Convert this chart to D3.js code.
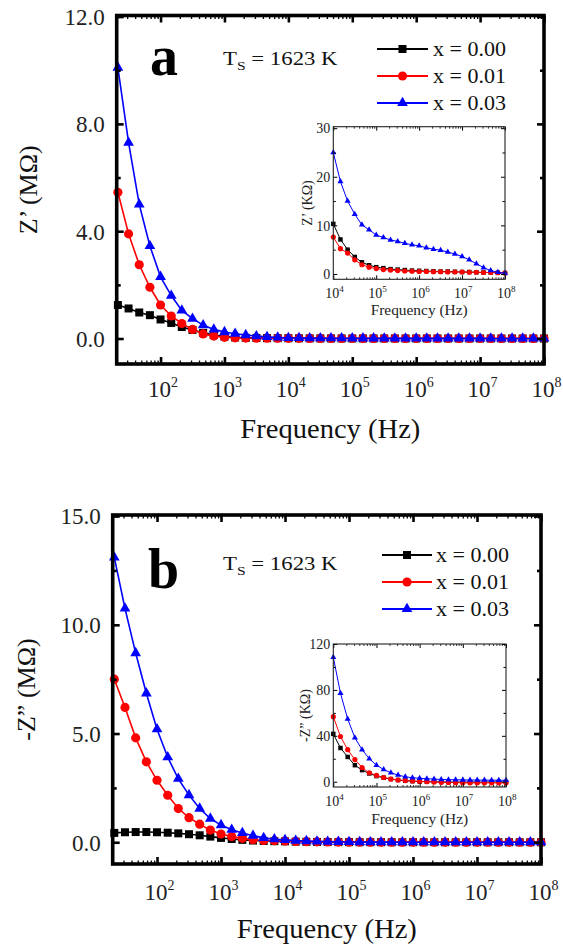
<!DOCTYPE html>
<html><head><meta charset="utf-8">
<script src="https://cdn.jsdelivr.net/npm/d3@7/dist/d3.min.js"></script>
<style>
html,body{margin:0;padding:0;background:#fff}
svg{display:block}
</style>
</head><body>
<svg id="chart" width="563" height="944"></svg>
<script>
// ---------------- DATA ----------------
// Measurement frequencies (Hz), 6 points per decade
const freq = [21.5, 31.6, 46.4, 68.1, 100, 147, 215, 316, 464, 681,
  1000, 1468, 2154, 3162, 4642, 6813,
  1e4, 1.468e4, 2.154e4, 3.162e4, 4.642e4, 6.813e4,
  1e5, 1.468e5, 2.154e5, 3.162e5, 4.642e5, 6.813e5,
  1e6, 1.468e6, 2.154e6, 3.162e6, 4.642e6, 6.813e6,
  1e7, 1.468e7, 2.154e7, 3.162e7, 4.642e7, 6.813e7, 1e8];
const lowCount = 16; // points below 10 kHz (MOhm)

const seriesNames = ["x = 0.00", "x = 0.01", "x = 0.03"];
const seriesColors = ["#000000", "#ff0000", "#0000ff"];
const seriesShapes = ["square", "circle", "triangle"];

// Panel a: Z' — below 10 kHz in MOhm (main), from 10 kHz in kOhm (inset)
const zReLow_x000 = [1.25, 1.12, 0.97, 0.87, 0.71, 0.58, 0.43, 0.32, 0.21, 0.13, 0.07, 0.04, 0.025, 0.018, 0.014, 0.012];
const zReLow_x001 = [5.45, 3.9, 2.75, 1.91, 1.25, 0.84, 0.56, 0.34, 0.17, 0.09, 0.045, 0.025, 0.016, 0.012, 0.01, 0.009];
const zReLow_x003 = [10.1, 7.3, 5.0, 3.45, 2.3, 1.6, 1.05, 0.74, 0.5, 0.34, 0.24, 0.18, 0.13, 0.09, 0.06, 0.04];
const zReHigh_x000 = [10.3, 7.1, 5.0, 3.5, 2.4, 1.8, 1.4, 1.2, 1.0, 0.9, 0.8, 0.7, 0.65, 0.6, 0.55, 0.5, 0.5, 0.45, 0.4, 0.4, 0.35, 0.3, 0.3, 0.25, 0.2];
const zReHigh_x001 = [7.6, 5.2, 4.3, 2.9, 1.9, 1.4, 1.1, 0.9, 0.8, 0.7, 0.6, 0.55, 0.5, 0.5, 0.45, 0.45, 0.4, 0.4, 0.4, 0.35, 0.35, 0.3, 0.3, 0.25, 0.2];
const zReHigh_x003 = [25.0, 19.0, 15.0, 12.3, 10.1, 9.1, 8.0, 7.5, 7.0, 6.7, 6.3, 6.0, 5.8, 5.4, 5.1, 4.9, 4.5, 4.1, 3.6, 2.9, 2.1, 1.3, 0.7, 0.35, 0.15];

// Panel b: -Z'' — below 10 kHz in MOhm (main), from 10 kHz in kOhm (inset)
const zImLow_x000 = [0.43, 0.46, 0.47, 0.47, 0.46, 0.44, 0.41, 0.37, 0.32, 0.26, 0.2, 0.15, 0.11, 0.08, 0.06, 0.05];
const zImLow_x001 = [7.5, 6.2, 4.8, 3.7, 2.85, 2.16, 1.55, 1.13, 0.83, 0.56, 0.38, 0.26, 0.18, 0.12, 0.085, 0.07];
const zImLow_x003 = [13.1, 10.75, 8.7, 6.85, 5.2, 3.91, 2.92, 2.17, 1.55, 1.09, 0.79, 0.58, 0.43, 0.3, 0.2, 0.14];
const zImHigh_x000 = [41.7, 29.4, 21.6, 14.4, 10.1, 7.2, 4.9, 3.5, 2.3, 1.5, 0.9, 0.5, 0.2, 0.0, -0.1, -0.2, -0.3, -0.3, -0.3, -0.3, -0.3, -0.3, -0.3, -0.3, -0.3];
const zImHigh_x001 = [56.7, 39.4, 27.9, 19.3, 12.4, 7.8, 5.5, 3.7, 2.3, 1.5, 1.0, 0.6, 0.3, 0.0, -0.3, -0.5, -0.7, -0.8, -0.9, -1.0, -1.0, -1.0, -1.0, -1.0, -1.0];
const zImHigh_x003 = [108.5, 77, 54.7, 38.3, 27.9, 20.1, 14.4, 10.6, 7.8, 5.8, 4.3, 3.5, 3.0, 2.6, 2.3, 2.0, 1.8, 1.7, 1.6, 1.5, 1.4, 1.4, 1.3, 1.3, 1.2];

// Tick values / labels
const mainXTickExps = [2, 3, 4, 5, 6, 7, 8];
const insetXTickExps = [4, 5, 6, 7, 8];
const zReYTicks = [0, 4, 8, 12];
const zReYMinor = [2, 6, 10];
const zImYTicks = [0, 5, 10, 15];
const zImYMinor = [2.5, 7.5, 12.5];
const zReInsetYTicks = [0, 10, 20, 30];
const zReInsetYMinor = [5, 15, 25];
const zImInsetYTicks = [0, 40, 80, 120];
const zImInsetYMinor = [20, 60, 100];

const panelLetters = ["a", "b"];
const tempLabel = ["T", "S", " = 1623 K"];
const xTitle = "Frequency (Hz)";
const zReTitle = "Z\u2019 (M\u03A9)";
const zImTitle = "-Z\u201D (M\u03A9)";
const zReInsetTitle = "Z\u2019 (K\u03A9)";
const zImInsetTitle = "-Z\u201D (K\u03A9)";

// ---------------- LAYOUT ----------------
const FONT = '"Liberation Serif"';
const svg = d3.select("#chart");

const panels = [
  {
    letter: panelLetters[0],
    frame: {x0: 116.7, x1: 544, y0: 15.5, y1: 364},
    xMin: 20.6, yDomain: [-0.95, 12.04],
    yTicks: zReYTicks, yMinor: zReYMinor, yTitle: zReTitle,
    yTitleX: 37, xTickBase: 397, xTitleBase: 438,
    letterPos: [150, 75], tempPos: [223, 65],
    legend: {rows: [49, 76, 103], l0: 377, l1: 428, tx: 433},
    low: [zReLow_x000, zReLow_x001, zReLow_x003],
    high: [zReHigh_x000, zReHigh_x001, zReHigh_x003],
    inset: {frame: {x0: 333.3, x1: 505, y0: 126.7, y1: 279.3}, yDomain: [-1.1, 30.3],
      yTicks: zReInsetYTicks, yMinor: zReInsetYMinor, yTitle: zReInsetTitle,
      yTitleX: 312, xTickBase: 298, xTitleBase: 315}
  },
  {
    letter: panelLetters[1],
    frame: {x0: 112.7, x1: 541, y0: 515, y1: 864},
    xMin: 20.3, yDomain: [-1.0, 15.05],
    yTicks: zImYTicks, yMinor: zImYMinor, yTitle: zImTitle,
    yTitleX: 35, xTickBase: 900, xTitleBase: 938,
    letterPos: [148, 588], tempPos: [223, 570],
    legend: {rows: [555, 582, 609], l0: 382, l1: 432, tx: 436},
    low: [zImLow_x000, zImLow_x001, zImLow_x003],
    high: [zImHigh_x000, zImHigh_x001, zImHigh_x003],
    inset: {frame: {x0: 333.3, x1: 506, y0: 644, y1: 787}, yDomain: [-4.6, 120],
      yTicks: zImInsetYTicks, yMinor: zImInsetYMinor, yTitle: zImInsetTitle,
      yTitleX: 310, xTickBase: 806, xTitleBase: 824}
  }
];

const symbolTypes = {square: d3.symbolSquare, circle: d3.symbolCircle, triangle: d3.symbolTriangle};
const mainSizes = {square: 64, circle: 66, triangle: 50};
const insetSizes = {square: 20, circle: 21, triangle: 16};

function styleAxis(g, w) {
  g.attr("font-family", null).attr("font-size", null);
  g.select(".domain").remove();
  g.selectAll(".tick line").attr("stroke", "#000").attr("stroke-width", w);
}

function decadeLabel(sel, fs, sfs, sdy) {
  sel.each(function(d) {
    const t = d3.select(this);
    const e = Math.round(Math.log10(d));
    t.text(null);
    t.append("tspan").text("10");
    t.append("tspan").attr("font-size", sfs).attr("dy", sdy).text(e);
  });
}

function drawFrameAxes(g, x, y, f, o) {
  const decades = o.xExps.map(e => Math.pow(10, e));
  const minorX = x.ticks().filter(v => Math.abs(Math.log10(v) - Math.round(Math.log10(v))) > 1e-6);
  // bottom major with labels
  const gb = g.append("g").attr("transform", `translate(0,${f.y1})`)
    .call(d3.axisBottom(x).tickValues(decades).tickSizeInner(-o.maj).tickSizeOuter(0).tickFormat(d => d));
  styleAxis(gb, o.majW);
  gb.selectAll(".tick text").attr("y", o.xTickBase - f.y1).attr("dy", 0)
    .attr("font-size", o.tickFs).attr("fill", "#222").style("font-family", FONT)
    .call(decadeLabel, o.tickFs, o.supFs, o.supDy);
  gb.selectAll(".tick text").each(function() {
    const bb = this.getBBox();
    d3.select(this).attr("text-anchor", "start").attr("x", -bb.width / 2 + o.labShift);
  });
  // bottom minor
  styleAxis(g.append("g").attr("transform", `translate(0,${f.y1})`)
    .call(d3.axisBottom(x).tickValues(minorX).tickSizeInner(-o.min).tickSizeOuter(0).tickFormat("")), o.minW);
  // top major + minor
  styleAxis(g.append("g").attr("transform", `translate(0,${f.y0})`)
    .call(d3.axisTop(x).tickValues(decades).tickSizeInner(-o.maj).tickSizeOuter(0).tickFormat("")), o.majW);
  styleAxis(g.append("g").attr("transform", `translate(0,${f.y0})`)
    .call(d3.axisTop(x).tickValues(minorX).tickSizeInner(-o.min).tickSizeOuter(0).tickFormat("")), o.minW);
  // left major with labels
  const gl = g.append("g").attr("transform", `translate(${f.x0},0)`)
    .call(d3.axisLeft(y).tickValues(o.yTicks).tickSizeInner(-o.maj).tickSizeOuter(0)
      .tickPadding(o.yPad).tickFormat(o.yFmt));
  styleAxis(gl, o.majW);
  gl.selectAll(".tick text").attr("font-size", o.tickFs).attr("fill", "#222")
    .style("font-family", FONT).attr("dy", "0.34em");
  styleAxis(g.append("g").attr("transform", `translate(${f.x0},0)`)
    .call(d3.axisLeft(y).tickValues(o.yMinor).tickSizeInner(-o.ymin).tickSizeOuter(0).tickFormat("")), o.majW);
  // right
  styleAxis(g.append("g").attr("transform", `translate(${f.x1},0)`)
    .call(d3.axisRight(y).tickValues(o.yTicks).tickSizeInner(-o.maj).tickSizeOuter(0).tickFormat("")), o.majW);
  styleAxis(g.append("g").attr("transform", `translate(${f.x1},0)`)
    .call(d3.axisRight(y).tickValues(o.yMinor).tickSizeInner(-o.ymin).tickSizeOuter(0).tickFormat("")), o.majW);
}

function drawSeries(g, x, y, seriesVals, freqs, sizes, lw) {
  const line = d3.line().x(d => x(d[0])).y(d => y(d[1]));
  seriesVals.forEach((vals, i) => {
    const pts = freqs.map((f, j) => [f, vals[j]]);
    g.append("path").attr("d", line(pts)).attr("fill", "none")
      .attr("stroke", seriesColors[i]).attr("stroke-width", lw);
    const sym = d3.symbol().type(symbolTypes[seriesShapes[i]]).size(sizes[seriesShapes[i]]);
    g.selectAll(null).data(pts).enter().append("path")
      .attr("d", sym).attr("fill", seriesColors[i])
      .attr("transform", d => `translate(${x(d[0])},${y(d[1])})`);
  });
}

function txt(g) { return g.append("text").style("font-family", FONT); }

panels.forEach(p => {
  const f = p.frame;
  const g = svg.append("g");
  const x = d3.scaleLog().domain([p.xMin, 1e8]).range([f.x0, f.x1]);
  const y = d3.scaleLinear().domain(p.yDomain).range([f.y1, f.y0]);

  // main series: low-frequency MOhm values + inset kOhm values converted to MOhm
  const mainVals = p.low.map((lo, i) => lo.concat(p.high[i].map(v => v / 1000)));
  drawSeries(g, x, y, mainVals, freq, mainSizes, 1.6);

  drawFrameAxes(g, x, y, f, {
    xExps: mainXTickExps, yTicks: p.yTicks, yMinor: p.yMinor, yFmt: d3.format(".1f"),
    maj: 7, min: 3.5, ymin: 4, majW: 2.6, minW: 1.3, tickFs: 23, supFs: 14, supDy: -10,
    xTickBase: p.xTickBase, yPad: 12, labShift: 2
  });
  g.append("rect").attr("x", f.x0).attr("y", f.y0).attr("width", f.x1 - f.x0).attr("height", f.y1 - f.y0)
    .attr("fill", "none").attr("stroke", "#000").attr("stroke-width", 3.6);

  // titles
  txt(g).attr("x", (f.x0 + f.x1) / 2).attr("y", p.xTitleBase).attr("text-anchor", "middle")
    .attr("font-size", 27).attr("fill", "#111").attr("textLength", 180).attr("lengthAdjust", "spacingAndGlyphs")
    .text(xTitle);
  txt(g).attr("transform", `translate(${p.yTitleX},${(f.y0 + f.y1) / 2}) rotate(-90)`)
    .attr("text-anchor", "middle").attr("font-size", 26).attr("fill", "#111").text(p.yTitle);

  // panel letter
  txt(g).attr("x", p.letterPos[0]).attr("y", p.letterPos[1]).attr("font-size", 56)
    .attr("font-weight", "bold").attr("fill", "#000").text(p.letter);

  // temperature label
  const tl = txt(g).attr("x", p.tempPos[0]).attr("y", p.tempPos[1]).attr("font-size", 19).attr("fill", "#111");
  tl.append("tspan").text(tempLabel[0]);
  tl.append("tspan").attr("font-size", 13).attr("dy", 5).text(tempLabel[1]);
  tl.append("tspan").attr("dy", -5).text(tempLabel[2]);
  const tw = tl.node().getBBox().width;
  const sx = 115 / tw;
  tl.attr("transform", `translate(${p.tempPos[0]},0) scale(${sx},1) translate(${-p.tempPos[0]},0)`);

  // legend
  const L = p.legend;
  seriesNames.forEach((name, i) => {
    const ry = L.rows[i];
    g.append("line").attr("x1", L.l0).attr("x2", L.l1).attr("y1", ry).attr("y2", ry)
      .attr("stroke", seriesColors[i]).attr("stroke-width", 2);
    g.append("path").attr("d", d3.symbol().type(symbolTypes[seriesShapes[i]]).size(mainSizes[seriesShapes[i]]))
      .attr("fill", seriesColors[i]).attr("transform", `translate(${(L.l0 + L.l1) / 2},${ry})`);
    txt(g).attr("x", L.tx).attr("y", ry).attr("dy", "0.34em").attr("font-size", 22)
      .attr("fill", "#111").text(name);
  });

  // inset
  const ins = p.inset, fi = ins.frame;
  const gi = svg.append("g");
  gi.append("rect").attr("x", fi.x0).attr("y", fi.y0).attr("width", fi.x1 - fi.x0).attr("height", fi.y1 - fi.y0)
    .attr("fill", "#fff");
  const xi = d3.scaleLog().domain([1e4, 1e8]).range([fi.x0, fi.x1]);
  const yi = d3.scaleLinear().domain(ins.yDomain).range([fi.y1, fi.y0]);
  drawSeries(gi, xi, yi, p.high, freq.slice(lowCount), insetSizes, 1);
  drawFrameAxes(gi, xi, yi, fi, {
    xExps: insetXTickExps, yTicks: ins.yTicks, yMinor: ins.yMinor, yFmt: d3.format("d"),
    maj: 4, min: 2, ymin: 2.5, majW: 1, minW: 0.8, tickFs: 14, supFs: 9, supDy: -6,
    xTickBase: ins.xTickBase, yPad: 3, labShift: 1
  });
  gi.append("rect").attr("x", fi.x0).attr("y", fi.y0).attr("width", fi.x1 - fi.x0).attr("height", fi.y1 - fi.y0)
    .attr("fill", "none").attr("stroke", "#222").attr("stroke-width", 1.1);
  txt(gi).attr("x", (fi.x0 + fi.x1) / 2).attr("y", ins.xTitleBase).attr("text-anchor", "middle")
    .attr("font-size", 15).attr("fill", "#222").attr("textLength", 97).attr("lengthAdjust", "spacingAndGlyphs")
    .text(xTitle);
  txt(gi).attr("transform", `translate(${ins.yTitleX},${(fi.y0 + fi.y1) / 2}) rotate(-90)`)
    .attr("text-anchor", "middle").attr("font-size", 14).attr("fill", "#222").text(ins.yTitle);
});
</script>
</body></html>
